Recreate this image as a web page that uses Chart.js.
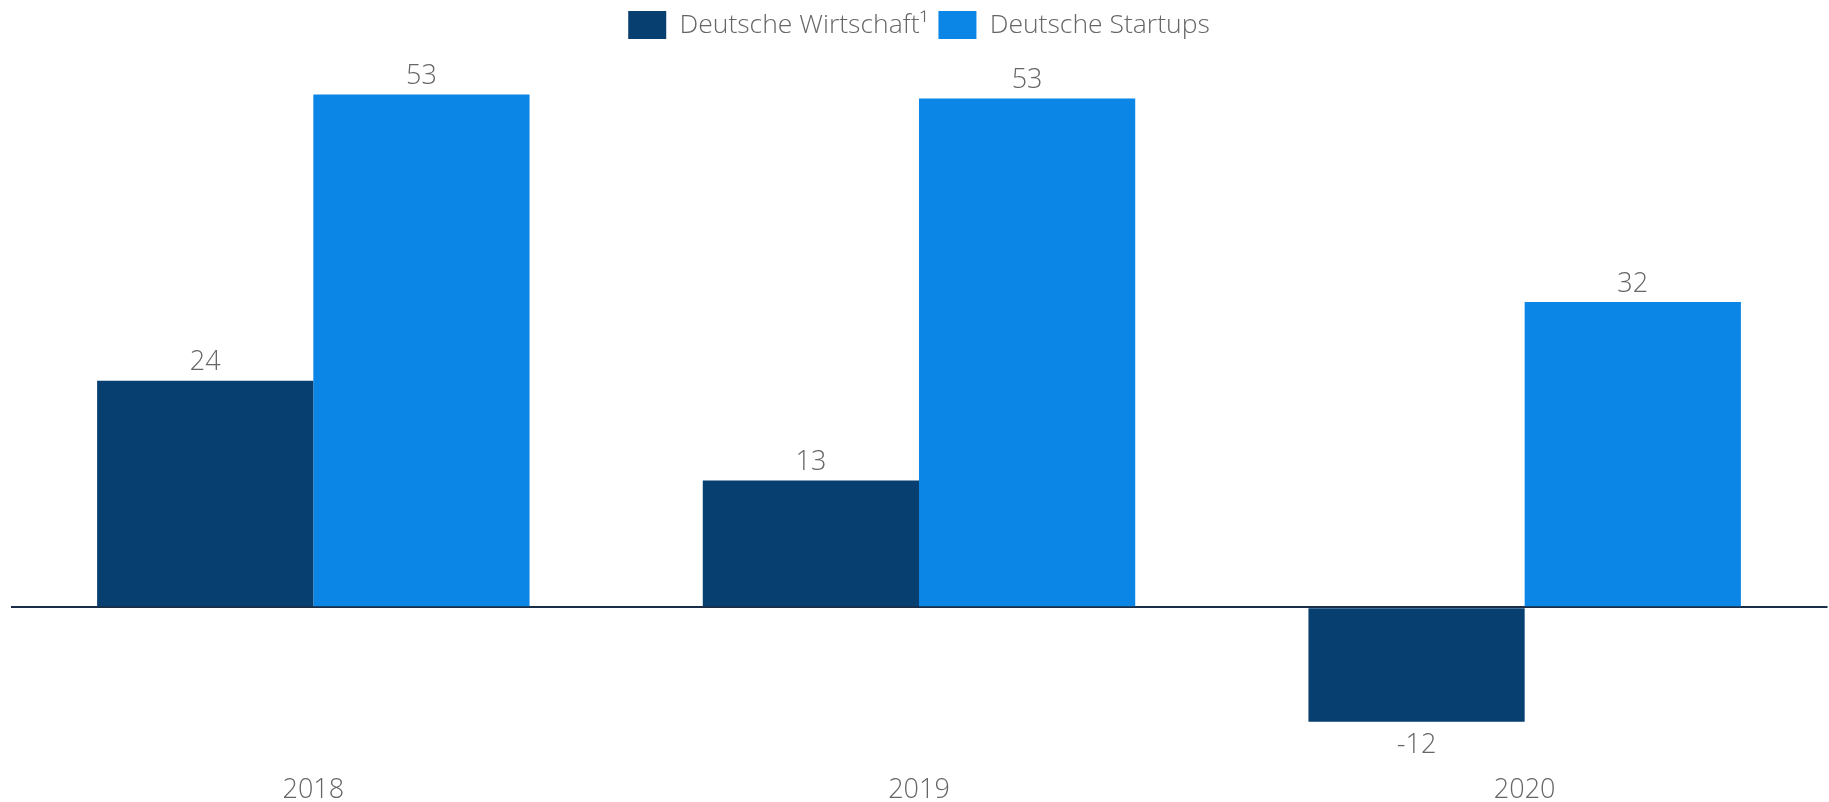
<!DOCTYPE html>
<html>
<head>
<meta charset="utf-8">
<script src="https://cdn.jsdelivr.net/npm/chart.js@4/dist/chart.umd.min.js"></script>
<style>
  html, body { margin: 0; padding: 0; background: #ffffff; }
  #wrap { width: 1829px; height: 802px; position: relative; }
</style>
</head>
<body>
<div id="wrap"><canvas id="c"></canvas></div>
<script>
// ---- data ----
const categories = ['2018', '2019', '2020'];
const seriesNames = ['Deutsche Wirtschaft\u00B9', 'Deutsche Startups'];
const wirtschaft = [23.6, 13.2, -11.9];
const startups = [53.4, 53.0, 31.8];

const FONT = "'Open Sans', 'Noto Sans', sans-serif";
const TEXT_COLOR = '#666666';

const valueLabels = {
  id: 'valueLabels',
  afterDatasetsDraw(chart) {
    const ctx = chart.ctx;
    ctx.save();
    ctx.font = '300 27px ' + FONT;
    ctx.fillStyle = TEXT_COLOR;
    ctx.textAlign = 'center';
    ctx.textBaseline = 'alphabetic';
    chart.data.datasets.forEach((ds, di) => {
      const meta = chart.getDatasetMeta(di);
      meta.data.forEach((bar, i) => {
        const v = ds.data[i];
        const txt = String(Math.round(v));
        if (v >= 0) {
          ctx.fillText(txt, bar.x, bar.y - 10.5);
        } else {
          ctx.fillText(txt, bar.x, bar.y + 31);
        }
      });
    });
    ctx.restore();
  }
};

new Chart(document.getElementById('c'), {
  type: 'bar',
  data: {
    labels: categories,
    datasets: [
      { label: seriesNames[0], data: wirtschaft, backgroundColor: '#063f70' },
      { label: seriesNames[1], data: startups, backgroundColor: '#0b86e6' }
    ]
  },
  options: {
    responsive: true,
    maintainAspectRatio: false,
    animation: false,
    devicePixelRatio: 1,
    layout: { padding: { top: 1, left: 10.5, right: 1.5, bottom: 1 } },
    datasets: { bar: { barPercentage: 1.0, categoryPercentage: 0.714 } },
    plugins: {
      legend: {
        position: 'top',
        labels: {
          boxWidth: 38,
          boxHeight: 28,
          padding: 10,
          color: TEXT_COLOR,
          font: { family: FONT, size: 26.5, weight: '300' }
        }
      },
      tooltip: { enabled: false }
    },
    scales: {
      x: {
        grid: { display: false, drawTicks: false },
        border: { display: false },
        afterFit: (scale) => { scale.height = 40; },
        ticks: {
          padding: 13,
          color: TEXT_COLOR,
          font: { family: FONT, size: 27, weight: '300' }
        }
      },
      y: {
        min: -16,
        max: 58.15,
        border: { display: false },
        grid: {
          drawTicks: false,
          lineWidth: 2,
          color: (c) => (c.tick && c.tick.value === 0) ? '#1b2e47' : 'rgba(0,0,0,0)'
        },
        ticks: { display: false }
      }
    }
  },
  plugins: [valueLabels]
});
</script>
</body>
</html>
